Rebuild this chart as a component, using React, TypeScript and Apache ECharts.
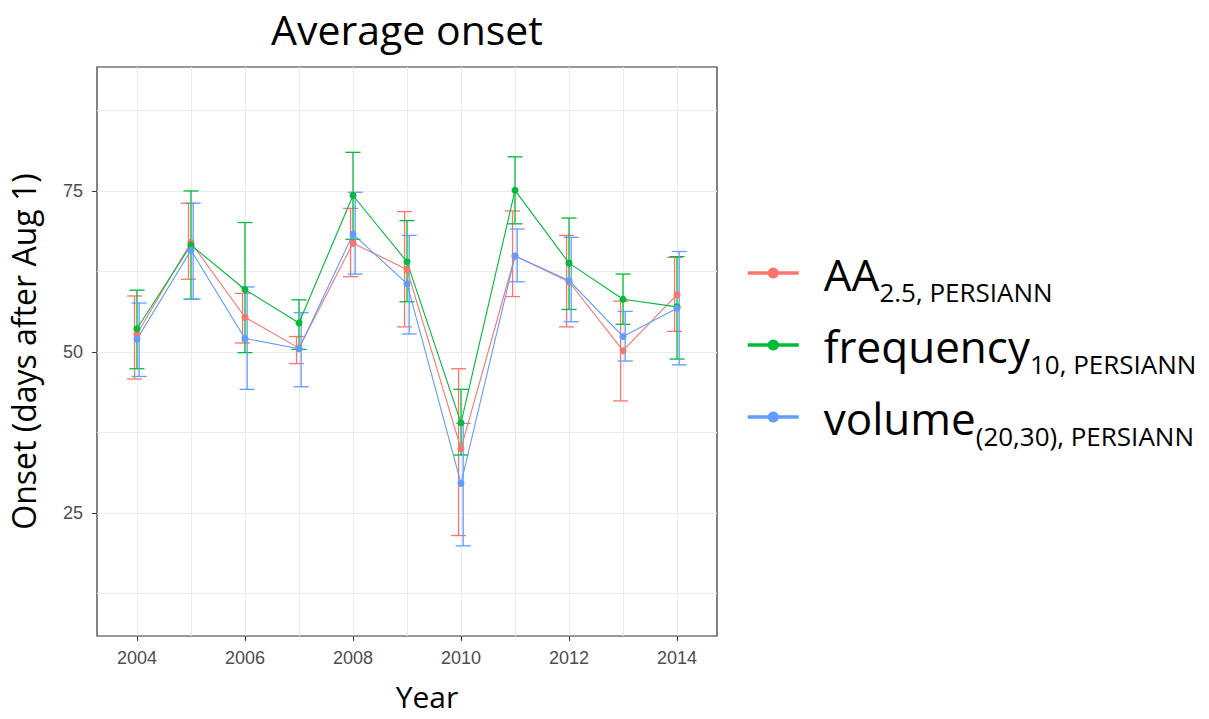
import React, { useEffect, useRef } from "react";
import * as echarts from "echarts";

// Onset years and per-method mean onset with error-bar bounds (days after Aug 1)
const years = [2004, 2005, 2006, 2007, 2008, 2009, 2010, 2011, 2012, 2013, 2014];

const aaMean = [52.8, 67.0, 55.4, 50.6, 66.9, 62.8, 35.0, 64.9, 60.9, 50.2, 58.9];
const aaLow = [45.8, 61.3, 51.4, 48.2, 61.7, 53.9, 21.5, 58.6, 53.9, 42.4, 53.2];
const aaHigh = [58.7, 73.1, 59.1, 52.4, 72.3, 71.8, 47.4, 71.9, 68.1, 57.9, 64.7];

const freqMean = [53.6, 66.6, 59.7, 54.5, 74.3, 64.0, 39.0, 75.1, 63.8, 58.2, 57.0];
const freqLow = [47.4, 58.2, 49.9, 50.4, 67.5, 57.8, 34.0, 69.9, 56.6, 54.3, 48.9];
const freqHigh = [59.6, 75.0, 70.1, 58.1, 81.0, 70.4, 44.2, 80.3, 70.8, 62.1, 64.8];

const volMean = [52.0, 65.8, 52.1, 50.5, 68.3, 60.6, 29.6, 64.9, 61.1, 52.4, 56.8];
const volLow = [46.2, 58.2, 44.2, 44.6, 62.1, 52.8, 19.9, 60.9, 54.7, 48.6, 48.0];
const volHigh = [57.6, 73.1, 60.1, 56.1, 74.8, 68.1, 38.9, 69.1, 67.8, 56.3, 65.6];

const xTickLabels = [2004, 2006, 2008, 2010, 2012, 2014];
const yTickLabels = [25, 50, 75];
const yGridValues = [12.5, 25, 37.5, 50, 62.5, 75, 87.5];

const methods = [
  { key: "AA", main: "AA", sub: "2.5, PERSIANN", color: "#F8766D", mean: aaMean, low: aaLow, high: aaHigh, dodge: -0.045 },
  { key: "frequency", main: "frequency", sub: "10, PERSIANN", color: "#00BA38", mean: freqMean, low: freqLow, high: freqHigh, dodge: 0 },
  { key: "volume", main: "volume", sub: "(20,30), PERSIANN", color: "#619CFF", mean: volMean, low: volLow, high: volHigh, dodge: 0.04 },
];

const X_MIN = 2003.26;
const X_MAX = 2014.74;
const Y_MIN = 5.9;
const Y_MAX = 94.25;

export default function App() {
  const ref = useRef<HTMLDivElement>(null);

  useEffect(() => {
    document.body.style.margin = "0";
    if (!ref.current) return;
    const chart = echarts.init(ref.current, null, { renderer: "svg" });

    const errorSeries = methods.map((m) => ({
      type: "custom",
      name: m.key + " range",
      xAxisIndex: 0,
      yAxisIndex: 0,
      z: 2,
      data: years.map((y, i) => [y + m.dodge, m.low[i], m.high[i]]),
      renderItem: (params: any, api: any) => {
        const x = api.value(0);
        const top = api.coord([x, api.value(2)]);
        const bot = api.coord([x, api.value(1)]);
        const hw = 7.5;
        const style = { stroke: m.color, lineWidth: 1.3 };
        return {
          type: "group",
          children: [
            { type: "line", shape: { x1: top[0], y1: top[1], x2: bot[0], y2: bot[1] }, style },
            { type: "line", shape: { x1: top[0] - hw, y1: top[1], x2: top[0] + hw, y2: top[1] }, style },
            { type: "line", shape: { x1: bot[0] - hw, y1: bot[1], x2: bot[0] + hw, y2: bot[1] }, style },
          ],
        };
      },
    }));

    const lineSeries = methods.map((m) => ({
      type: "line",
      name: m.key,
      xAxisIndex: 0,
      yAxisIndex: 0,
      z: 3,
      data: years.map((y, i) => [y, m.mean[i]]),
      symbol: "circle",
      symbolSize: 7,
      showSymbol: true,
      lineStyle: { color: m.color, width: 1.1 },
      itemStyle: { color: m.color },
    }));

    const gridLine = { show: true, lineStyle: { color: "#EBEBEB", width: 1 } };

    chart.setOption({
      animation: false,
      backgroundColor: "#ffffff",
      graphic: [
        {
          type: "text",
          x: 407,
          y: 29,
          style: {
            text: "Average onset",
            font: '41px "Open Sans"',
            fill: "#000",
            textAlign: "center",
            textVerticalAlign: "middle",
          },
        },
      ],
      grid: {
        left: 97,
        top: 67,
        width: 620,
        height: 569,
        outerBoundsMode: "none",
        containLabel: false,
        show: true,
        borderColor: "#333333",
        borderWidth: 1.2,
        backgroundColor: "transparent",
      },
      xAxis: [
        {
          type: "value",
          min: X_MIN,
          max: X_MAX,
          axisLine: { show: false },
          axisTick: { show: false, customValues: years },
          axisLabel: { show: false, customValues: years },
          splitLine: gridLine,
        },
        {
          type: "value",
          min: X_MIN,
          max: X_MAX,
          position: "bottom",
          axisLine: { show: false },
          axisTick: { show: true, customValues: xTickLabels, length: 5, lineStyle: { color: "#333333" } },
          axisLabel: {
            customValues: xTickLabels,
            formatter: (v: number) => String(v),
            color: "#4D4D4D",
            fontSize: 18,
            fontFamily: "Liberation Sans",
            margin: 13,
          },
          splitLine: { show: false },
          name: "Year",
          nameLocation: "middle",
          nameGap: 45,
          nameTextStyle: { fontSize: 30, lineHeight: 30, fontFamily: "Open Sans", color: "#000", padding: [0, 0, 0, 40] },
        },
      ],
      yAxis: [
        {
          type: "value",
          min: Y_MIN,
          max: Y_MAX,
          axisLine: { show: false },
          axisTick: { show: false, customValues: yGridValues },
          axisLabel: { show: false, customValues: yGridValues },
          splitLine: gridLine,
        },
        {
          type: "value",
          min: Y_MIN,
          max: Y_MAX,
          position: "left",
          axisLine: { show: false },
          axisTick: { show: true, customValues: yTickLabels, length: 5, lineStyle: { color: "#333333" } },
          axisLabel: {
            customValues: yTickLabels,
            color: "#4D4D4D",
            fontSize: 18,
            fontFamily: "Liberation Sans",
            margin: 14,
          },
          splitLine: { show: false },
          name: "Onset (days after Aug 1)",
          nameLocation: "middle",
          nameRotate: 90,
          nameGap: 58,
          nameTextStyle: { fontSize: 32, fontFamily: "Open Sans", color: "#000" },
        },
      ],
      legend: {
        orient: "vertical",
        left: 746,
        top: 241,
        padding: 0,
        itemGap: 8,
        itemWidth: 51,
        itemHeight: 14,
        data: methods.map((m) => m.key),
        lineStyle: { width: 3.5 },
        formatter: (name: string) => {
          const m = methods.find((q) => q.key === name)!;
          return `{gap|}{main|${m.main}}{sub|${m.sub}}`;
        },
        textStyle: {
          rich: {
            gap: { width: 20 },
            main: { fontSize: 44, lineHeight: 46, padding: [2, 0, 0, 0], fontFamily: "Open Sans", color: "#000" },
            sub: { fontSize: 26, lineHeight: 26, padding: [38, 0, 0, 0], fontFamily: "Open Sans", color: "#000" },
          },
        },
      },
      series: [...errorSeries, ...lineSeries],
    });

    return () => chart.dispose();
  }, []);

  return <div ref={ref} style={{ width: 1209, height: 719 }} />;
}
